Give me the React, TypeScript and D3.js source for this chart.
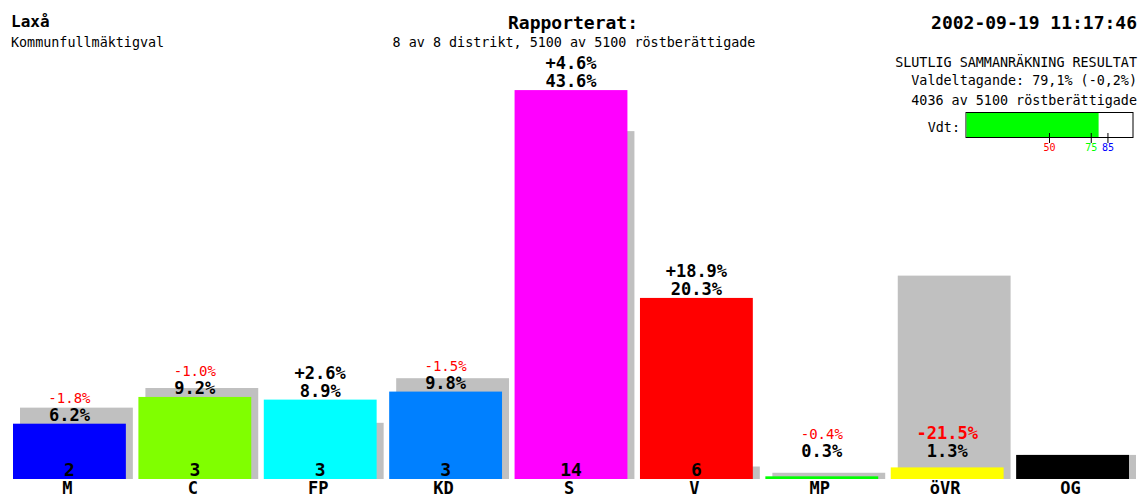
import React from "react";
import * as d3 from "d3";

const categories = ["M", "C", "FP", "KD", "S", "V", "MP", "öVR", "OG"];
const currentValues = [6.2, 9.2, 8.9, 9.8, 43.6, 20.3, 0.3, 1.3, 2.7];
const previousValues = [8.0, 10.2, 6.3, 11.3, 39.0, 1.4, 0.7, 22.8, 2.7];
const changeLabels = ["-1.8%", "-1.0%", "+2.6%", "-1.5%", "+4.6%", "+18.9%", "-0.4%", "-21.5%", ""];
const changeValues = [-1.8, -1.0, 2.6, -1.5, 4.6, 18.9, -0.4, -21.5, 0];
const valueLabels = ["6.2%", "9.2%", "8.9%", "9.8%", "43.6%", "20.3%", "0.3%", "1.3%", ""];
const seats = ["2", "3", "3", "3", "14", "6", "", "", ""];
const colors = ["#0000ff", "#80ff00", "#00ffff", "#0080ff", "#ff00ff", "#ff0000", "#00ff00", "#ffff00", "#000000"];

const turnout = 79.1;
const turnoutTicks = [50, 75, 85];
const turnoutTickColors = ["#ff0000", "#00ff00", "#0000ff"];

const W = 1141;
const H = 498;
const FONT = "'DejaVu Sans Mono', 'Liberation Mono', monospace";

export default function App() {
  const baseY = 479;
  const y = d3.scaleLinear().domain([0, 50]).range([baseY, baseY - 446]);
  const x = d3.scaleBand<string>().domain(categories).range([13, 1129]).paddingInner(0.1).paddingOuter(0);
  const bw = x.bandwidth();
  const off = 7;
  const vx = d3.scaleLinear().domain([0, 100]).range([966, 1133]);

  return (
    <svg width={W} height={H} style={{ position: "absolute", left: 0, top: 0, background: "#fff" }} fontFamily={FONT}>
      <rect x={0} y={0} width={W} height={H} fill="#fff" />
      {/* header */}
      <text x={11} y={27} fontSize={16} fontWeight="bold">Laxå</text>
      <text x={11} y={47} fontSize={13.4}>Kommunfullmäktigval</text>
      <text x={573} y={29} fontSize={18} fontWeight="bold" textAnchor="middle">Rapporterat:</text>
      <text x={574} y={47} fontSize={13.4} textAnchor="middle">8 av 8 distrikt, 5100 av 5100 röstberättigade</text>
      <text x={1137} y={29} fontSize={18} fontWeight="bold" textAnchor="end">2002-09-19 11:17:46</text>
      <text x={1137} y={67} fontSize={13.4} textAnchor="end">SLUTLIG SAMMANRÄKNING RESULTAT</text>
      <text x={1137} y={85} fontSize={13.4} textAnchor="end">Valdeltagande: 79,1% (-0,2%)</text>
      <text x={1137} y={105} fontSize={13.4} textAnchor="end">4036 av 5100 röstberättigade</text>
      <text x={960} y={132} fontSize={13.4} textAnchor="end">Vdt:</text>
      <rect x={vx(0)} y={112.5} width={vx(100) - vx(0)} height={25} fill="#fff" stroke="#000" strokeWidth={1} />
      <rect x={vx(0) + 0.5} y={113} width={vx(turnout) - vx(0)} height={24} fill="#00ff00" />
      {turnoutTicks.map((t, i) => (
        <g key={t}>
          <line x1={vx(t)} x2={vx(t)} y1={133} y2={143} stroke="#000" strokeWidth={1} />
          <text x={vx(t)} y={151} fontSize={10} textAnchor="middle" fill={turnoutTickColors[i]}>{t}</text>
        </g>
      ))}
      {/* bars */}
      {categories.map((c, i) => {
        const x0 = x(c) as number;
        const cx = x0 + bw / 2;
        const topCur = y(currentValues[i]);
        const topPrev = y(previousValues[i]);
        const valBase = Math.min(topCur - 3, 457);
        const big = Math.abs(changeValues[i]) >= 2;
        const chColor = changeValues[i] < 0 ? "#ff0000" : "#000";
        return (
          <g key={c}>
            <rect x={x0 + off} y={topPrev} width={bw} height={baseY - topPrev} fill="#c0c0c0" />
            <rect x={x0} y={topCur} width={bw} height={baseY - topCur} fill={colors[i]} />
            {valueLabels[i] && (
              <text x={cx} y={valBase} fontSize={17} fontWeight="bold" textAnchor="middle">{valueLabels[i]}</text>
            )}
            {changeLabels[i] && (
              <text
                x={cx}
                y={valBase - 18}
                fontSize={big ? 17 : 14}
                fontWeight={big ? "bold" : "normal"}
                textAnchor="middle"
                fill={chColor}
              >
                {changeLabels[i]}
              </text>
            )}
            {seats[i] && (
              <text x={cx} y={476} fontSize={18} textAnchor="middle" fontWeight="bold">{seats[i]}</text>
            )}
            <text x={cx - 2} y={494} fontSize={17} textAnchor="middle" fontWeight="bold">{c}</text>
          </g>
        );
      })}
    </svg>
  );
}
